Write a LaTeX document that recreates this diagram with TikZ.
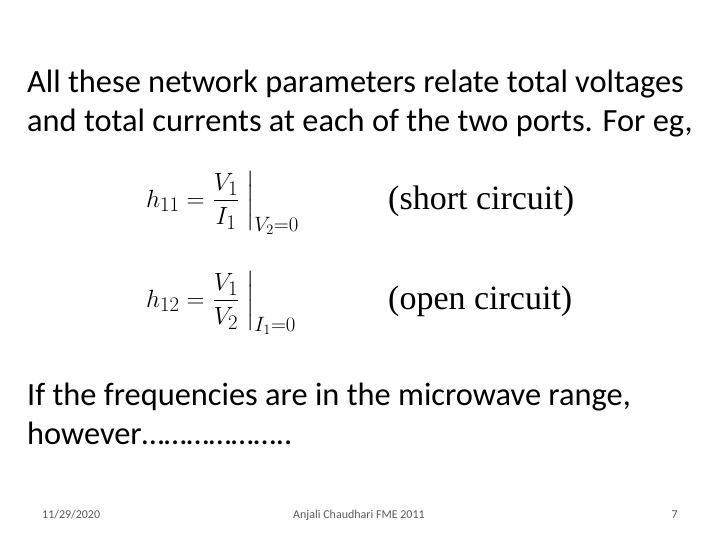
\documentclass[tikz,border=0pt]{standalone}
\usepackage{amsmath}
\usepackage{fontspec}
\setmainfont{Carlito}
\newfontfamily\serif{Liberation Serif}
\begin{document}
\begin{tikzpicture}[x=1pt,y=1pt,
  body/.style={anchor=base west,inner sep=0,font=\fontsize{32.4}{38}\selectfont},
  eq/.style={anchor=west,inner sep=0,font=\fontsize{31}{36}\selectfont},
  lbl/.style={anchor=west,inner sep=0,font=\serif\fontsize{34}{38}\selectfont},
  foot/.style={inner sep=0,font=\fontsize{12}{14}\selectfont,text=black!65}]
\useasboundingbox (0,0) rectangle (720,-540);
\node[body] (l1) at (27,-93) {All these network parameters relate total voltages};
\node[body] (l2) at (27,-132) {and total currents at each of the two ports. For eg,};
\node[eq] (e1) at (146,-203) {$h_{11} = \left.\dfrac{V_1}{I_1}\;\right|_{V_2=0}$};
\node[lbl] (s1) at (388,-201) {(short circuit)};
\node[eq] (e2) at (146,-303) {$h_{12} = \left.\dfrac{V_1}{V_2}\;\right|_{I_1=0}$};
\node[lbl] (s2) at (388,-301) {(open circuit)};
\node[body] (l3) at (27,-405) {If the frequencies are in the microwave range,};
\node[body] (l4) at (27,-444) {however\dots\dots\dots\dots\dots\dots..};
\node[foot,anchor=west] (d) at (42,-515) {11/29/2020};
\node[foot] (a) at (359,-515) {Anjali Chaudhari FME 2011};
\node[foot,anchor=east] (p) at (678,-515) {7};
\end{tikzpicture}
\end{document}
